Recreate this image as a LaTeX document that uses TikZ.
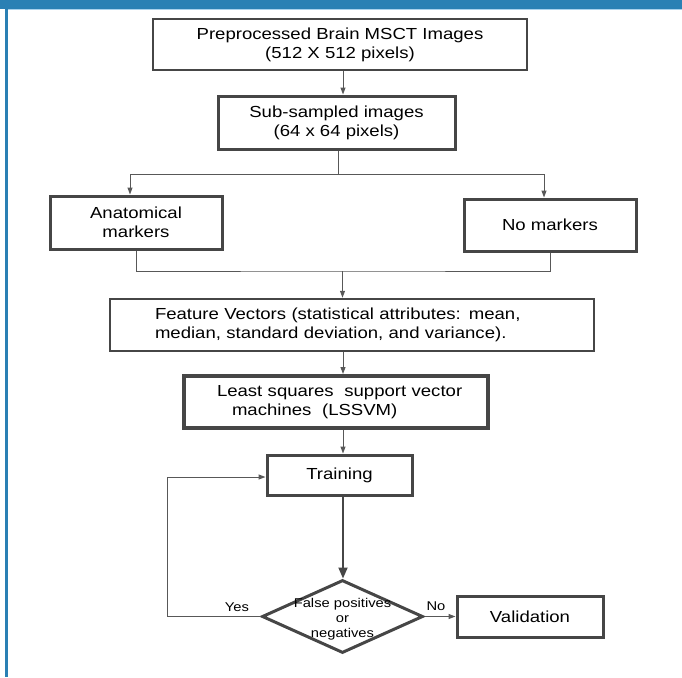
\documentclass[tikz,border=0pt]{standalone}
\usepackage{fontspec}
\setmainfont{Liberation Sans}[FakeStretch=1.16]
\usetikzlibrary{arrows.meta,shapes.geometric}
\definecolor{frameblue}{HTML}{2A80B4}
\definecolor{framelight}{HTML}{A9D1EC}
\definecolor{boxc}{HTML}{464646}
\definecolor{linec}{HTML}{585858}
\newcommand\mainsz{\fontsize{16}{19}\selectfont}
\newcommand\smallsz{\fontsize{12.7}{15}\selectfont}
\begin{document}
\begin{tikzpicture}[x=1pt,y=-1pt,
  box/.style={draw=boxc, rectangle, inner sep=0pt, align=center, font=\mainsz, text=black},
  conn/.style={draw=linec, line width=1pt},
  arr/.style={conn, -{Triangle[length=7pt,width=5pt]}},
  bigarr/.style={draw=boxc, line width=1.8pt, -{Triangle[length=11pt,width=9pt]}},
  dia/.style={draw=boxc, diamond, line width=3pt, inner sep=0pt},
  dtext/.style={align=center, font=\smallsz, inner sep=0pt},
  lbl/.style={font=\smallsz, inner sep=0pt}]
\useasboundingbox (0,0) rectangle (682,677);
\fill[white] (0,0) rectangle (682,677);
% frame
\fill[frameblue] (0,0) rectangle (682,9);
\fill[framelight] (8,9) rectangle (682,10.3);
\fill[frameblue] (5,9) rectangle (8,677);
% boxes
\node[box, line width=2pt, minimum width=374pt, minimum height=51pt] (b1) at (340,44.5)
  {Preprocessed Brain MSCT Images\\(512 X 512 pixels)};
\node[box, line width=3pt, minimum width=237pt, minimum height=53pt] (b2) at (336.5,122.5)
  {Sub-sampled images\\(64 x 64 pixels)};
\node[box, line width=3pt, minimum width=172pt, minimum height=53pt] (anat) at (136,222.5)
  {Anatomical\\markers};
\node[box, line width=3pt, minimum width=172pt, minimum height=52pt] (nomark) at (550,225)
  {No markers};
\node[box, line width=2.5pt, text width=394pt, inner xsep=45pt, minimum height=52pt, align=left] (feat) at (352,325)
  {Feature Vectors (statistical attributes: mean,\\median, standard deviation, and variance).};
\node[box, line width=4pt, text width=266pt, inner xsep=19pt, minimum height=52pt, align=left] (lssvm) at (336,402)
  {\hspace*{14pt}Least squares\ \ support vector\\\hspace*{29pt}machines\ \ (LSSVM)};
\node[box, line width=3pt, minimum width=145pt, minimum height=40pt] (train) at (339.5,475)
  {Training};
\node[dia, minimum width=161pt, minimum height=73pt] (dec) at (342.5,616.5) {};
\node[dtext] (dect) at (342.5,619) {False positives\\or\\negatives};
\node[box, line width=3pt, minimum width=146pt, minimum height=41pt] (valid) at (530,616.5)
  {Validation};
% labels
\node[lbl] (yes) at (237,607) {Yes};
\node[lbl] (no) at (436,606) {No};
% connectors
\coordinate (ax) at (343,0);
\draw[arr] (b1.south -| ax) -- (b2.north -| ax);
\coordinate (split) at (338,174);
\draw[conn] (b2.south -| split) -- (split);
\draw[arr] (split) -| ([xshift=-6pt]anat.north);
\draw[arr] (split) -| ([xshift=-6pt]nomark.north);
\coordinate (merge) at (342.5,271);
\draw[conn] (anat.south) |- (merge) -| (nomark.south);
\draw[arr] (merge) -- (merge |- feat.north);
\draw[arr] (feat.south -| ax) -- (lssvm.north -| ax);
\draw[arr] (lssvm.south -| ax) -- (train.north -| ax);
\draw[bigarr] (train.south -| ax) -- (dec.north -| ax);
\coordinate (loop) at (167,477);
\draw[arr] (dec.west) -| (loop) -- (loop -| train.west);
\draw[arr] (dec.east) -- (valid.west |- dec.east);
\end{tikzpicture}
\end{document}
